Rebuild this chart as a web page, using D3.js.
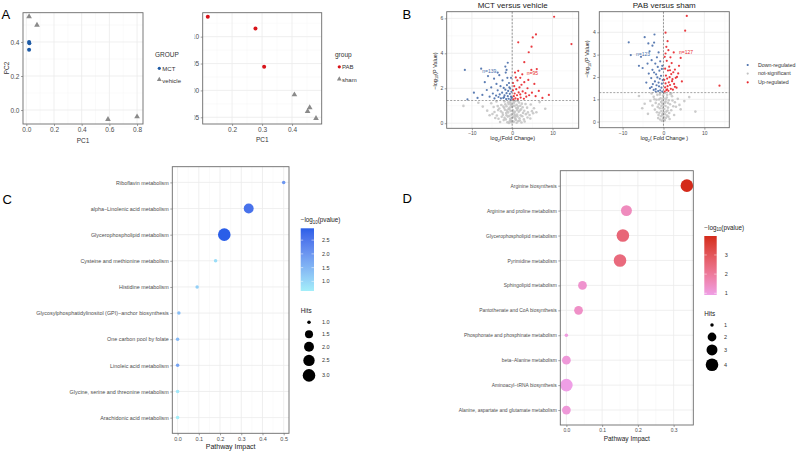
<!DOCTYPE html>
<html>
<head>
<meta charset="utf-8">
<script src="https://cdn.jsdelivr.net/npm/d3@7"></script>
<style>
  body { margin: 0; background: #fff; }
  text { font-family: "Liberation Sans", Arial, Helvetica, sans-serif; }
</style>
</head>
<body>
<div id="chart"></div>
<script>
// ---------- data ----------
// A: PCA scores [PC1, PC2]
const mctPts = [[0.02, 0.40], [0.022, 0.392], [0.02, 0.355]];
const vehiclePts = [[0.02, 0.549], [0.077, 0.499], [0.59, -0.055], [0.80, -0.039]];
const pabPts = [[0.119, 0.137], [0.278, 0.115], [0.307, 0.044]];
const shamPts = [[0.408, -0.008], [0.459, -0.032], [0.452, -0.039], [0.48, -0.052]];

// B: volcano points [log2 FC, -log10 P]
const mctGray = [[-1.2,0.05],[0.4,0.08],[1.5,0.12],[-0.3,0.15],[2.3,0.04],[-2.1,0.18],[0.9,0.19],[-0.8,0.02],[3.1,0.1],[-3.0,0.07],[0.1,0.11],[1.1,0.03],
  [-0.5,0.25],[1.8,0.28],[-1.9,0.31],[2.9,0.22],[0.3,0.35],[-3.4,0.26],[-1.1,0.38],[3.8,0.33],[0.8,0.24],[-2.6,0.37],[1.3,0.39],[-4.2,0.3],[4.5,0.27],[-0.1,0.3],
  [-0.7,0.42],[2.1,0.45],[-2.3,0.48],[3.4,0.52],[0.5,0.55],[-3.8,0.44],[-1.5,0.58],[4.3,0.47],[1.2,0.5],[-4.9,0.53],[5.2,0.57],[-0.2,0.49],[2.7,0.59],[-5.6,0.46],[0.9,0.43],
  [-1.0,0.62],[1.6,0.65],[-2.8,0.68],[3.0,0.71],[0.2,0.74],[-4.4,0.64],[-1.8,0.77],[4.9,0.69],[2.2,0.79],[-3.5,0.75],[0.7,0.66],[-6.2,0.72],[6.0,0.63],[-0.4,0.7],[1.9,0.73],
  [-0.9,0.82],[1.4,0.85],[-2.0,0.88],[2.6,0.91],[0.0,0.94],[-3.2,0.84],[-1.4,0.97],[3.7,0.89],[0.6,0.99],[-4.6,0.93],[5.4,0.86],[-0.6,0.9],[-12.1,0.99],[-7.3,0.95],[8.2,0.83],[1.0,0.87],
  [-0.3,1.02],[1.1,1.05],[-1.7,1.08],[2.4,1.12],[0.4,1.16],[-2.7,1.04],[-1.0,1.2],[3.3,1.1],[-3.9,1.25],[0.8,1.27],[-0.5,1.22],[1.7,1.18],[-5.2,1.14],[4.6,1.07],[6.8,1.21],[-8.4,1.17],
  [-0.6,0.12],[0.7,0.32],[-1.6,0.22],[1.9,0.16],[-2.4,0.6],[2.5,0.4],[-0.9,1.1],[0.2,1.0],[-1.3,0.72],[1.5,0.95],[-3.6,0.98],[3.9,0.62],
  [-0.2,0.06],[0.6,0.45],[-1.4,0.46],[0.3,0.62],[-0.7,0.8],[1.2,0.76],[-2.2,0.95],[2.0,1.0],[-0.4,1.12],[0.5,1.24],[-1.9,1.24],[1.4,1.28]];
const mctDown = [[-0.4,1.35],[-0.9,1.4],[-1.5,1.38],[-2.2,1.45],[-0.3,1.52],[-1.1,1.55],[-1.9,1.6],[-2.8,1.42],[-3.4,1.5],[-0.6,1.68],[-1.4,1.72],[-2.5,1.75],[-0.2,1.8],
  [-1.0,1.85],[-3.1,1.65],[-4.0,1.58],[-1.7,1.92],[-0.5,1.98],[-2.1,2.02],[-3.6,1.88],[-4.8,1.7],[-5.6,1.52],[-2.9,2.12],[-1.3,2.18],[-0.8,2.3],[-3.9,2.25],[-5.2,2.05],
  [-6.3,1.9],[-7.4,1.62],[-2.4,2.45],[-1.2,2.6],[-4.5,2.55],[-6.8,2.35],[-3.2,2.75],[-1.6,2.9],[-3.6,2.9],[-1.4,3.05],[-1.7,3.24],[-1.1,3.46],[-7.7,3.12],[-11.75,3.05],
  [-11.1,1.37],[-8.6,1.45],[-9.5,1.75],[-6.0,2.7],[-0.7,2.05],[-2.0,1.5],[-0.1,1.45],[-0.3,2.6],[-4.4,1.42]];
const mctUp = [[0.3,1.36],[0.8,1.42],[1.4,1.38],[2.1,1.47],[0.4,1.55],[1.2,1.6],[2.0,1.65],[2.9,1.4],[3.5,1.52],[0.6,1.7],[1.6,1.76],[2.6,1.82],[0.2,1.88],[1.0,1.95],
  [3.3,1.72],[4.2,1.6],[1.8,2.05],[0.5,2.12],[2.3,2.2],[3.8,2.0],[4.9,1.75],[5.8,1.55],[3.0,2.35],[1.3,2.45],[0.9,2.62],[4.0,2.48],[5.5,2.25],[6.6,1.85],[2.5,2.8],
  [1.5,3.0],[4.75,3.05],[3.0,3.49],[4.1,4.06],[4.8,4.38],[1.5,4.63],[5.1,4.91],[5.9,5.08],[10.4,6.09],[14.7,4.53],[9.1,1.62],[7.5,1.45],[0.7,2.9],[2.0,2.6],[6.1,3.1],[0.2,2.3]];

const pabGray = [[-0.4,0.04],[0.3,0.08],[-0.1,0.13],[0.6,0.17],[-0.8,0.1],[0.1,0.2],[-0.6,0.24],[0.9,0.27],[-1.2,0.3],[0.4,0.33],[-0.2,0.36],[1.4,0.39],[-1.6,0.42],
  [0.7,0.45],[-0.5,0.48],[1.9,0.51],[-2.1,0.54],[0.2,0.57],[-0.9,0.6],[1.1,0.63],[-1.4,0.66],[2.4,0.69],[3.06,0.67],[-2.7,0.72],[0.0,0.75],[1.6,0.78],[-0.3,0.81],
  [-1.9,0.84],[2.8,0.87],[0.5,0.9],[-3.2,0.93],[1.3,0.96],[-1.1,0.99],[3.5,1.02],[-0.7,1.05],[0.8,1.08],[-2.4,1.11],[2.1,1.14],[-0.1,1.17],[-1.5,1.2],[1.7,1.23],
  [-2.9,1.26],[0.3,1.28],[4.2,0.55],[-4.6,0.8],[5.1,0.92],[-3.8,0.35],[2.6,0.3],[-0.5,0.7],[0.6,1.0],[1.0,0.5],[-1.0,0.4],[-0.3,0.95],[0.9,1.2],[-2.2,1.0],[6.3,1.1],
  [-6.0,1.15],[3.9,0.75],[0.2,0.05],[-0.2,0.6],[0.4,0.85],[-0.9,1.22],[1.5,0.12],[-1.3,0.16],[2.2,0.95],[7.8,0.45],[-5.2,0.6],[0.1,0.42],[-0.6,0.88],[1.2,0.22],
  [-0.3,0.3],[0.5,0.7],[-1.7,0.98],[1.9,1.26],[-0.8,1.28],[0.0,1.05],[-1.1,0.78],[1.1,0.84]];
const pabDown = [[-0.3,1.34],[-0.8,1.4],[-1.3,1.37],[-1.9,1.46],[-0.5,1.52],[-1.1,1.58],[-1.7,1.63],[-2.4,1.42],[-2.9,1.55],[-0.4,1.7],[-1.2,1.75],[-2.1,1.8],[-0.2,1.86],
  [-0.9,1.92],[-2.6,1.68],[-3.3,1.5],[-1.5,1.98],[-0.6,2.05],[-1.8,2.12],[-3.0,1.95],[-2.3,2.2],[-1.0,2.28],[-0.4,2.36],[-2.7,2.32],[-1.4,2.45],[-3.6,2.15],[-5.1,2.4],
  [-6.0,2.5],[-2.0,2.6],[-0.8,2.7],[-2.9,2.75],[-1.6,2.88],[-8.0,2.98],[-8.5,3.55],[-4.6,3.78],[-3.7,3.5],[-2.3,3.54],[-2.7,3.4],[-1.2,3.1],[-3.4,3.15],[-0.3,2.5],
  [-1.9,1.35],[-4.2,1.75],[-3.9,2.6],[-5.5,2.9],[-2.2,3.9]];
const pabUp = [[0.3,1.35],[0.7,1.41],[1.2,1.38],[1.8,1.47],[0.4,1.53],[1.0,1.59],[1.6,1.64],[2.3,1.43],[2.8,1.56],[0.5,1.71],[1.3,1.76],[2.1,1.81],[0.2,1.87],[0.9,1.93],
  [2.6,1.69],[3.2,1.52],[1.5,1.99],[0.6,2.06],[1.9,2.13],[3.0,1.96],[2.4,2.21],[1.1,2.29],[0.4,2.37],[2.8,2.33],[1.4,2.46],[3.6,2.16],[2.0,2.62],[0.8,2.72],[1.7,2.88],
  [0.5,3.05],[1.2,3.2],[0.7,3.35],[2.5,3.1],[3.8,2.5],[0.5,3.98],[5.3,4.07],[5.7,4.73],[13.7,1.61],[4.5,1.8],[0.3,2.9],[1.6,2.3],[2.2,1.9],[0.9,1.45],[3.3,2.0],[1.0,3.6],[4.2,2.85]];
const volcanoCounts = { mct: ['n=139', 'n=95'], pab: ['n=123', 'n=127'] };
const regLabels = ['Down-regulated', 'not-significant', 'Up-regulated'];

// C: MCT pathway enrichment
const pathwaysC = ['Riboflavin metabolism', 'alpha\u2212Linolenic acid metabolism', 'Glycerophospholipid metabolism',
  'Cysteine and methionine metabolism', 'Histidine metabolism', 'Glycosylphosphatidylinositol (GPI)\u2212anchor biosynthesis',
  'One carbon pool by folate', 'Linoleic acid metabolism', 'Glycine, serine and threonine metabolism', 'Arachidonic acid metabolism'];
const impactC = [0.5, 0.335, 0.22, 0.179, 0.092, 0.006, 0.0, 0.0, 0.0, 0.0];
const logpC = [2.0, 2.6, 2.93, 0.9, 1.1, 1.4, 1.45, 1.8, 0.75, 0.65];
const hitsC = [1, 2, 3, 1, 1, 1, 1, 1, 1, 1];
const hitsLegendC = [1.0, 1.5, 2.0, 2.5, 3.0];
const colorTicksC = [1.0, 1.5, 2.0, 2.5];

// D: PAB pathway enrichment
const pathwaysD = ['Arginine biosynthesis', 'Arginine and proline metabolism', 'Glycerophospholipid metabolism', 'Pyrimidine metabolism',
  'Sphingolipid metabolism', 'Pantothenate and CoA biosynthesis', 'Phosphonate and phosphinate metabolism',
  'beta\u2212Alanine metabolism', 'Aminoacyl\u2212tRNA biosynthesis', 'Alanine, aspartate and glutamate metabolism'];
const impactD = [0.337, 0.168, 0.158, 0.15, 0.045, 0.034, 0.0, 0.0, 0.0, 0.0];
const logpD = [3.99, 1.5, 2.55, 2.45, 1.25, 1.35, 1.0, 1.1, 0.91, 1.1];
const hitsD = [4, 3, 4, 4, 2, 2, 1, 2, 4, 2];
const hitsLegendD = [1, 2, 3, 4];
const colorTicksD = [1, 2, 3];

// ---------- setup ----------
const W = 796, H = 451;
const svg = d3.select('#chart').append('svg')
  .attr('width', W).attr('height', H)
  .attr('viewBox', `0 0 ${W} ${H}`);

const TXT = '#333';
const BLUE_PCA = '#1d5aa5', RED_PCA = '#d8141a', GRAY_PCA = '#8a8a8a';
const BLUE_V = '#4a6fab', RED_V = '#e8262b', GRAY_V = '#c2c2c2';

// grid + axes, ggplot theme_bw style
function frame(g, x, y, o) {
  const grid = g.append('g');
  grid.selectAll('.xmin').data(o.xMinor || []).join('line')
    .attr('x1', d => x(d)).attr('x2', d => x(d)).attr('y1', o.top).attr('y2', o.bottom)
    .attr('stroke', '#f4f4f4').attr('stroke-width', 0.5);
  grid.selectAll('.ymin').data(o.yMinor || []).join('line')
    .attr('y1', d => y(d)).attr('y2', d => y(d)).attr('x1', o.left).attr('x2', o.right)
    .attr('stroke', '#f4f4f4').attr('stroke-width', 0.5);
  grid.selectAll('.xmaj').data(o.xMajor).join('line')
    .attr('x1', d => x(d)).attr('x2', d => x(d)).attr('y1', o.top).attr('y2', o.bottom)
    .attr('stroke', '#ebebeb').attr('stroke-width', 0.8);
  grid.selectAll('.ymaj').data(o.yMajor).join('line')
    .attr('y1', d => y(d)).attr('y2', d => y(d)).attr('x1', o.left).attr('x2', o.right)
    .attr('stroke', '#ebebeb').attr('stroke-width', 0.8);

  const ax = g.append('g').attr('transform', `translate(0,${o.bottom})`)
    .call(d3.axisBottom(x).tickValues(o.xMajor).tickFormat(o.xFmt).tickSize(2).tickPadding(1.5));
  const ay = g.append('g').attr('transform', `translate(${o.left},0)`)
    .call(d3.axisLeft(y).tickValues(o.yMajor).tickFormat(o.yFmt).tickSize(2).tickPadding(1.5));
  [[ax, o.fs], [ay, o.yfs || o.fs]].forEach(([a, fs]) => {
    a.select('.domain').remove();
    a.selectAll('line').attr('stroke', '#444').attr('stroke-width', 0.5);
    a.selectAll('text').attr('fill', '#4d4d4d').attr('font-size', fs)
      .attr('font-family', '"Liberation Sans", Arial, sans-serif');
  });
}

function border(g, o) {
  g.append('rect').attr('x', o.left).attr('y', o.top)
    .attr('width', o.right - o.left).attr('height', o.bottom - o.top)
    .attr('fill', 'none').attr('stroke', '#6a6a6a').attr('stroke-width', 0.9);
}

function dots(g, data, x, y, r, fill, op) {
  g.append('g').selectAll('circle').data(data).join('circle')
    .attr('cx', d => x(d[0])).attr('cy', d => y(d[1]))
    .attr('r', r).attr('fill', fill).attr('fill-opacity', op == null ? 1 : op);
}

function tris(g, data, x, y, fill) {
  g.append('g').selectAll('path').data(data).join('path')
    .attr('d', d3.symbol().type(d3.symbolTriangle).size(14))
    .attr('transform', d => `translate(${x(d[0])},${y(d[1])})`)
    .attr('fill', fill);
}

function text(g, x, y, s, fs, opt = {}) {
  return g.append('text').attr('x', x).attr('y', y).text(s)
    .attr('font-size', fs).attr('fill', opt.fill || TXT)
    .attr('text-anchor', opt.anchor || 'start')
    .attr('font-weight', opt.weight || null);
}

// text with subscripts: parts = [[str, isSub], ...]
function subText(g, x, y, parts, fs, opt = {}) {
  const t = g.append('text')
    .attr('transform', `translate(${x},${y})` + (opt.rotate ? ' rotate(-90)' : ''))
    .attr('font-size', fs).attr('fill', opt.fill || '#222')
    .attr('text-anchor', opt.anchor || 'middle');
  let sub = false;
  parts.forEach(([s, isSub]) => {
    const dy = isSub && !sub ? fs * 0.3 : (!isSub && sub ? -fs * 0.3 : 0);
    t.append('tspan').attr('dy', dy).attr('font-size', isSub ? fs * 0.7 : fs).text(s);
    sub = isSub;
  });
  return t;
}

// panel letters
text(svg, 1.5, 19.3, 'A', 13, { fill: '#000' });
text(svg, 402.5, 19.3, 'B', 13, { fill: '#000' });
text(svg, 2.5, 203.5, 'C', 13, { fill: '#000' });
text(svg, 402.5, 202.7, 'D', 13, { fill: '#000' });

// ---------- A left: MCT vs vehicle PCA ----------
{
  const o = { left: 23, right: 143, top: 12.7, bottom: 124,
    xMajor: [0, 0.2, 0.4, 0.6, 0.8], xMinor: [0.1, 0.3, 0.5, 0.7],
    yMajor: [0, 0.2, 0.4], yMinor: [-0.1, 0.1, 0.3, 0.5],
    xFmt: d3.format('.1f'), yFmt: d3.format('.1f'), fs: 6.5 };
  const x = d3.scaleLinear().domain([-0.024, 0.843]).range([o.left, o.right]);
  const y = d3.scaleLinear().domain([-0.082, 0.572]).range([o.bottom, o.top]);
  const g = svg.append('g');
  frame(g, x, y, o);
  dots(g, mctPts, x, y, 2, BLUE_PCA);
  tris(g, vehiclePts, x, y, GRAY_PCA);
  border(g, o);
  text(g, 83, 142.5, 'PC1', 6.5, { anchor: 'middle' });
  g.append('text').attr('transform', 'translate(8.5,68) rotate(-90)').attr('text-anchor', 'middle')
    .attr('font-size', 6.5).attr('fill', TXT).text('PC2');
  text(g, 155, 56.5, 'GROUP', 6.5);
  g.append('circle').attr('cx', 159.3).attr('cy', 68.3).attr('r', 1.6).attr('fill', BLUE_PCA);
  text(g, 162.3, 71, 'MCT', 6);
  g.append('path').attr('d', d3.symbol().type(d3.symbolTriangle).size(10)())
    .attr('transform', 'translate(159.3,79.5)').attr('fill', GRAY_PCA);
  text(g, 162.3, 82.5, 'vehicle', 6);
}

// ---------- A right: PAB vs sham PCA ----------
{
  svg.append('clipPath').attr('id', 'clipA2').append('rect')
    .attr('x', 194.5).attr('y', 0).attr('width', 220).attr('height', 160);
  const o = { left: 202.7, right: 321.7, top: 12.7, bottom: 124,
    xMajor: [0.2, 0.3, 0.4], xMinor: [0.15, 0.25, 0.35, 0.45],
    yMajor: [-0.05, 0, 0.05, 0.10], yMinor: [-0.025, 0.025, 0.075, 0.125],
    xFmt: d3.format('.1f'), yFmt: d3.format('.2f'), fs: 6.5 };
  const x = d3.scaleLinear().domain([0.102, 0.499]).range([o.left, o.right]);
  const y = d3.scaleLinear().domain([-0.0625, 0.1446]).range([o.bottom, o.top]);
  const g = svg.append('g').attr('clip-path', 'url(#clipA2)');
  frame(g, x, y, o);
  dots(g, pabPts, x, y, 2, RED_PCA);
  tris(g, shamPts, x, y, GRAY_PCA);
  border(g, o);
  text(g, 262.3, 142, 'PC1', 6.5, { anchor: 'middle' });
  text(g, 335, 56.5, 'group', 6.5);
  g.append('circle').attr('cx', 339.3).attr('cy', 66.8).attr('r', 1.6).attr('fill', RED_PCA);
  text(g, 342, 69.3, 'PAB', 6);
  g.append('path').attr('d', d3.symbol().type(d3.symbolTriangle).size(10)())
    .attr('transform', 'translate(339.3,79)').attr('fill', GRAY_PCA);
  text(g, 342, 81.5, 'sham', 6);
}

// ---------- B: volcano plots ----------
function volcano(o, gray, down, up, counts, title, xlab, ylabY) {
  const x = d3.scaleLinear().domain(o.xDom).range([o.left, o.right]);
  const y = d3.scaleLinear().domain(o.yDom).range([o.bottom, o.top]);
  const g = svg.append('g');
  frame(g, x, y, o);
  dots(g, gray, x, y, 1.3, GRAY_V, 0.85);
  dots(g, down, x, y, 1.1, BLUE_V, 0.9);
  dots(g, up, x, y, 1.1, RED_V, 0.9);
  // thresholds
  g.append('line').attr('x1', x(0)).attr('x2', x(0)).attr('y1', o.top).attr('y2', o.bottom)
    .attr('stroke', '#555').attr('stroke-width', 0.6).attr('stroke-dasharray', '2,1.5');
  g.append('line').attr('x1', o.left).attr('x2', o.right).attr('y1', y(1.3)).attr('y2', y(1.3))
    .attr('stroke', '#666').attr('stroke-width', 0.6).attr('stroke-dasharray', '2,1.5');
  text(g, x(o.nDown[0]), y(o.nDown[1]), counts[0], 5, { anchor: 'middle', fill: BLUE_V });
  text(g, x(o.nUp[0]), y(o.nUp[1]), counts[1], 5, { anchor: 'middle', fill: RED_V });
  border(g, o);
  text(g, (o.left + o.right) / 2, 8, title, 8, { anchor: 'middle', fill: '#222' });
  subText(g, (o.left + o.right) / 2, 140, xlab, 5.5);
  subText(g, o.left - 10, ylabY, [['\u2212log', false], ['10', true], ['(P Value)', false]], 5.5, { rotate: true });
}

volcano({ left: 446.7, right: 578.7, top: 11.7, bottom: 128.3, xDom: [-16.25, 16.5], yDom: [-0.29, 6.38],
  xMajor: [-10, 0, 10], xMinor: [-15, -5, 5, 15], yMajor: [0, 2, 4, 6], yMinor: [1, 3, 5],
  xFmt: d3.format('d'), yFmt: d3.format('d'), fs: 5, nDown: [-5.7, 2.85], nUp: [5, 2.75] },
  mctGray, mctDown, mctUp, volcanoCounts.mct, 'MCT versus vehicle',
  [['log', false], ['2', true], ['(Fold Change)', false]], 71);

volcano({ left: 599.3, right: 729.3, top: 11.7, bottom: 127.7, xDom: [-15.7, 16.1], yDom: [-0.27, 4.92],
  xMajor: [-10, 0, 10], xMinor: [-15, -5, 5, 15], yMajor: [0, 1, 2, 3, 4], yMinor: [0.5, 1.5, 2.5, 3.5, 4.5],
  xFmt: d3.format('d'), yFmt: d3.format('d'), fs: 5, nDown: [-5, 2.92], nUp: [5.5, 3.02] },
  pabGray, pabDown, pabUp, volcanoCounts.pab, 'PAB versus sham',
  [['log', false], ['2', true], ['( Fold Change )', false]], 59);

{
  const g = svg.append('g');
  const cols = [BLUE_V, GRAY_V, RED_V];
  const ys = [65, 73.6, 82.3];
  regLabels.forEach((s, i) => {
    g.append('circle').attr('cx', 747.7).attr('cy', ys[i]).attr('r', 1.1).attr('fill', cols[i]);
    text(g, 758, ys[i] + 1.8, s, 5.3);
  });
}

// ---------- C / D: pathway bubble plots ----------
function bubbles(o, cats, impact, logp, hits, colorRange, hitsLegend, colorTicks, tickFmt) {
  const x = d3.scaleLinear().domain(o.xDom).range([o.left, o.right]);
  const y = d3.scalePoint().domain(cats).range([o.top, o.bottom]).padding(0.6);
  const color = d3.scaleLinear().domain(o.cDom).range(colorRange).interpolate(d3.interpolateLab);
  const hMin = d3.min(hitsLegend), hMax = d3.max(hitsLegend);
  const size = d3.scaleSqrt().domain([0, hMax - hMin]).range([1.75, 6.3]);
  const rOf = h => size(h - hMin);
  const g = svg.append('g');
  frame(g, x, y, Object.assign({ yMajor: cats, yFmt: d => d }, o));
  const rows = cats.map((c, i) => ({ c, v: impact[i], p: logp[i], h: hits[i] }));
  g.append('g').selectAll('circle').data(rows).join('circle')
    .attr('cx', d => x(d.v)).attr('cy', d => y(d.c))
    .attr('r', d => rOf(d.h)).attr('fill', d => color(d.p));
  border(g, o);
  text(g, (o.left + o.right) / 2, o.bottom + 15.5, 'Pathway Impact', o.labFs, { anchor: 'middle', fill: '#222' });

  // colour bar
  const cb = o.cbar;
  const gid = 'grad' + o.id;
  const grad = svg.append('defs').append('linearGradient').attr('id', gid)
    .attr('x1', 0).attr('x2', 0).attr('y1', 1).attr('y2', 0);
  d3.range(0, 1.0001, 0.1).forEach(t => {
    grad.append('stop').attr('offset', t).attr('stop-color', color(o.cDom[0] + t * (o.cDom[1] - o.cDom[0])));
  });
  subText(g, cb.x, cb.y - 6.5, [['\u2212log', false], ['10', true], ['(pvalue)', false]], 6.3, { anchor: 'start' });
  g.append('rect').attr('x', cb.x).attr('y', cb.y).attr('width', cb.w).attr('height', cb.h)
    .attr('fill', `url(#${gid})`);
  const cy = d3.scaleLinear().domain(o.cDom).range([cb.y + cb.h, cb.y]);
  colorTicks.forEach(v => {
    g.append('line').attr('x1', cb.x).attr('x2', cb.x + 2.5).attr('y1', cy(v)).attr('y2', cy(v))
      .attr('stroke', '#fff').attr('stroke-width', 0.5);
    g.append('line').attr('x1', cb.x + cb.w - 2.5).attr('x2', cb.x + cb.w).attr('y1', cy(v)).attr('y2', cy(v))
      .attr('stroke', '#fff').attr('stroke-width', 0.5);
    text(g, cb.x + cb.w + 8, cy(v) + 2, tickFmt(v), 5.5);
  });

  // size legend
  const hl = o.hleg;
  text(g, cb.x, hl.titleY, 'Hits', 6.3, { fill: '#222' });
  let yy = hl.y0, prevH = null;
  hitsLegend.forEach(h => {
    const r = rOf(h);
    const kh = Math.max(12, 2 * r + 3);
    if (prevH !== null) yy += (prevH + kh) / 2;
    prevH = kh;
    g.append('circle').attr('cx', hl.x).attr('cy', yy).attr('r', r).attr('fill', '#000');
    text(g, hl.tx, yy + 2, tickFmt(h), 5.5);
  });
}

bubbles({ id: 'C', left: 172.3, right: 289, top: 166.7, bottom: 433.3, xDom: [-0.025, 0.525],
  xMajor: [0, 0.1, 0.2, 0.3, 0.4, 0.5], xMinor: [0.05, 0.15, 0.25, 0.35, 0.45],
  xFmt: d3.format('.1f'), fs: 5.5, yfs: 5.4, labFs: 7, cDom: [0.65, 2.93],
  cbar: { x: 300.7, y: 228.3, w: 13.3, h: 62.7 }, hleg: { titleY: 312.5, y0: 322.3, x: 309, tx: 322 } },
  pathwaysC, impactC, logpC, hitsC, ['#a3eef9', '#2a5ee8'], hitsLegendC, colorTicksC, d3.format('.1f'));

bubbles({ id: 'D', left: 560.3, right: 693.3, top: 170.7, bottom: 425, xDom: [-0.017, 0.355],
  xMajor: [0, 0.1, 0.2, 0.3], xMinor: [0.05, 0.15, 0.25, 0.35],
  xFmt: d3.format('.1f'), fs: 5, yfs: 4.9, labFs: 6.5, cDom: [0.91, 3.99],
  cbar: { x: 704.3, y: 236, w: 12.4, h: 59 }, hleg: { titleY: 315.5, y0: 325, x: 712, tx: 724 } },
  pathwaysD, impactD, logpD, hitsD, ['#ef9fe6', '#d42a1a'], hitsLegendD, colorTicksD, d3.format('d'));
</script>
</body>
</html>
